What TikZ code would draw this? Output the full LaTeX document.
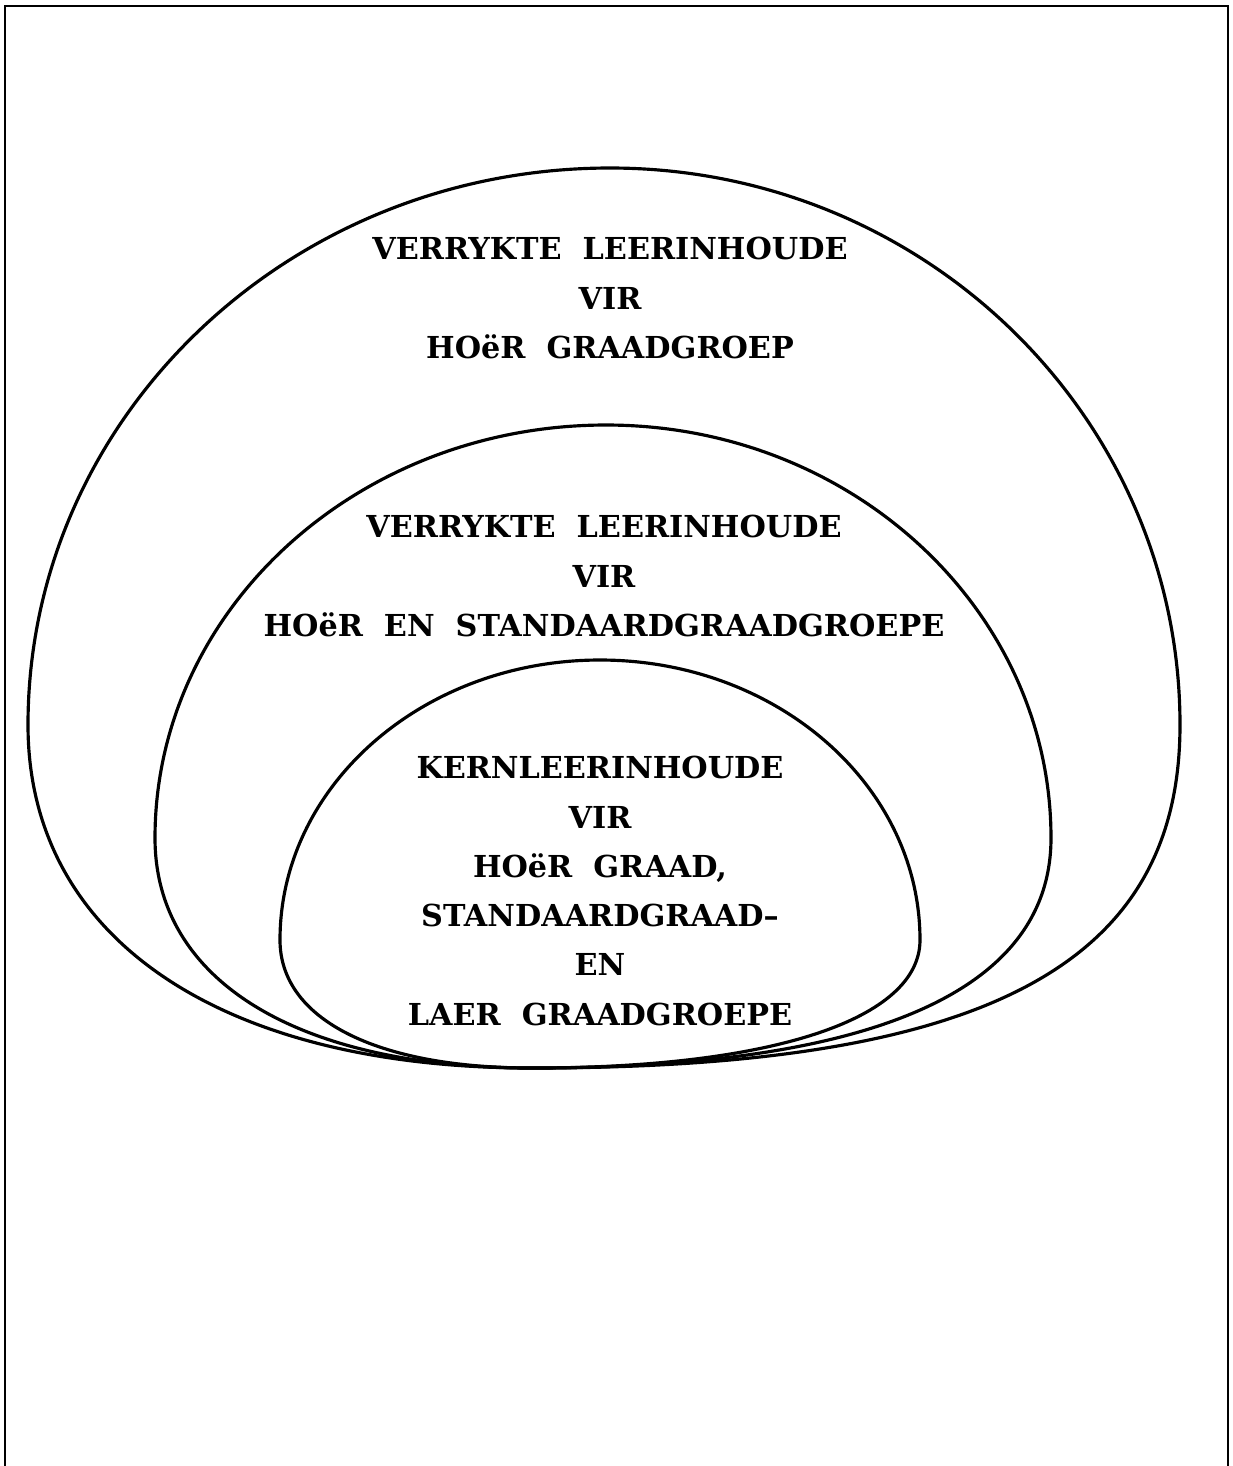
\documentclass[tikz,border=0pt]{standalone}
\usepackage{fontspec}
\setmainfont{DejaVu Serif}
\usepackage{tikz}

\tikzset{
  ring/.style={draw, line width=0.9pt},
  lbl/.style={align=center, inner sep=0pt,
    font=\fontsize{8.6}{14}\selectfont\bfseries}
}

\begin{document}
\begin{tikzpicture}[x=0.01cm, y=0.01cm]
  \useasboundingbox (0,0) rectangle (1233,-1466);

  % frame, open at the bottom
  \coordinate (fbl) at (5,-1466);
  \coordinate (ftl) at (5,-6);
  \coordinate (ftr) at (1228,-6);
  \coordinate (fbr) at (1228,-1466);
  \draw[line width=0.8pt] (fbl) -- (ftl) -- (ftr) -- (fbr);

  % the three rings all touch at one point at the bottom
  \coordinate (touch) at (532,-1068);

  % outer ring
  \draw[ring] (1180,-725)
    arc[start angle=0, end angle=90, x radius=570, y radius=557]
    arc[start angle=90, end angle=180, x radius=582, y radius=557]
    .. controls (28,-938) and (220,-1068) .. (touch)
    .. controls (986,-1068) and (1180,-965) .. (1180,-725);
  % middle ring
  \draw[ring] (1051,-838)
    arc[start angle=0, end angle=90, x radius=445, y radius=413]
    arc[start angle=90, end angle=180, x radius=451, y radius=413]
    .. controls (155,-981) and (298,-1068) .. (touch)
    .. controls (875,-1068) and (1051,-990) .. (1051,-838);
  % inner ring
  \draw[ring] (920,-940)
    arc[start angle=0, end angle=90, x radius=320, y radius=280]
    arc[start angle=90, end angle=180, x radius=320, y radius=280]
    .. controls (280,-1019) and (376,-1068) .. (touch)
    .. controls (773,-1068) and (920,-1019) .. (920,-940);

  \node[lbl] (hoer) at (610,-298)
    {VERRYKTE\ \ LEERINHOUDE\\VIR\\HOëR\ \ GRAADGROEP};
  \node[lbl] (hoerstd) at (604,-576)
    {VERRYKTE\ \ LEERINHOUDE\\VIR\\HOëR\ \ EN\ \ STANDAARDGRAADGROEPE};
  \node[lbl] (kern) at (600,-891)
    {KERNLEERINHOUDE\\VIR\\HOëR\ \ GRAAD,\\STANDAARDGRAAD--\\EN\\LAER\ \ GRAADGROEPE};
\end{tikzpicture}
\end{document}
